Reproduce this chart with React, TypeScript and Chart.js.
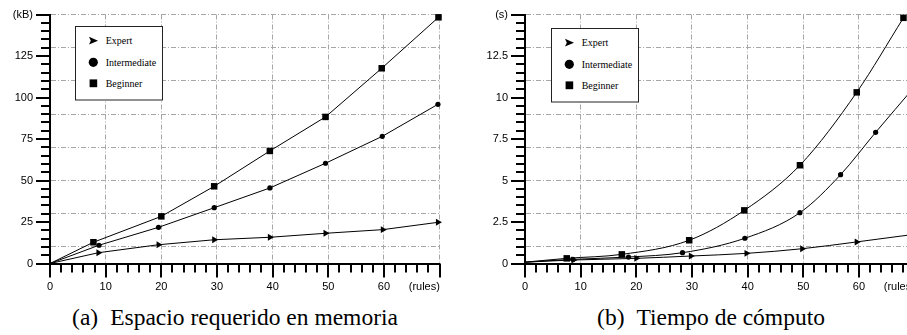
import React, { useEffect, useRef } from "react";
import { Chart, registerables } from "chart.js";
Chart.register(...registerables);

// ---------- data: (a) memory, kB ----------
const memExpertX = [0, 8.7, 19.5, 29.5, 39.5, 49.5, 59.8, 69.7];
const memExpertY = [0, 6.5, 11.3, 14.3, 15.8, 18.2, 20.4, 24.8];
const memInterX = [0, 8.8, 19.5, 29.5, 39.5, 49.5, 59.7, 69.7];
const memInterY = [0, 11, 21.8, 33.6, 45.5, 60.4, 76.6, 95.9];
const memBeginX = [0, 7.8, 20.0, 29.5, 39.5, 49.5, 59.6, 69.8];
const memBeginY = [0, 12.8, 28.4, 46.5, 67.8, 88.3, 117.6, 148.3];

// ---------- data: (b) time, s ----------
const timeExpertX = [0, 8.7, 20.0, 29.8, 39.8, 49.8, 59.6, 70];
const timeExpertY = [0.08, 0.21, 0.31, 0.45, 0.61, 0.89, 1.3, 1.76];
const timeInterX = [0, 8.6, 18.6, 28.3, 39.5, 49.4, 56.7, 63.0, 70];
const timeInterY = [0.08, 0.25, 0.39, 0.65, 1.52, 3.06, 5.35, 7.9, 10.65];
const timeBeginX = [0, 7.5, 17.4, 29.5, 39.4, 49.4, 59.6, 68.0];
const timeBeginY = [0.08, 0.31, 0.55, 1.4, 3.2, 5.92, 10.31, 14.8];

const seriesNames = ["Expert", "Intermediate", "Beginner"];
const xMax = 70;
const xLabelEvery = 10;
const xUnitLabel = "(rules)";
const memYMax = 150;
const memYLabelEvery = 25;
const memYUnit = "(kB)";
const timeYMax = 15;
const timeYLabelEvery = 2.5;
const timeYUnit = "(s)";
const captionA = "Espacio requerido en memoria";
const captionB = "Tiempo de cómputo";

const MAJOR = 14;
const MINOR = 9;
const GRID_COLOR = "#a6a6a6";
const GRID_DASH = [5, 2, 1, 2];
const TICK_FONT = { family: "'Liberation Sans', Arial, sans-serif", size: 11 };
const CANVAS_W = 460;
const CANVAS_H = 300;

const near = (a: number, b: number) => Math.abs(a - b) < 1e-6;
const isMult = (v: number, s: number) => near(v / s, Math.round(v / s));

type ChartCfg = {
  xs: number[][];
  ys: number[][];
  yMax: number;
  yStep: number;
  yLabelEvery: number;
  yGridStart: number;
  yGridStep: number;
  yUnit: string;
  smooth: boolean;
};

function toPts(xs: number[], ys: number[]) {
  return xs.map((x, i) => ({ x, y: ys[i] }));
}

function buildChart(canvas: HTMLCanvasElement, c: ChartCfg) {
  const styles = [
    { pointStyle: "triangle", radius: 4, rotation: 90 },
    { pointStyle: "circle", radius: 2.6, rotation: 0 },
    { pointStyle: "rect", radius: 4.6, rotation: 0 },
  ];
  const datasets = seriesNames.map((name, i) => ({
    label: name,
    data: toPts(c.xs[i], c.ys[i]),
    borderColor: "#000",
    backgroundColor: "#000",
    borderWidth: 1,
    pointStyle: styles[i].pointStyle as any,
    pointRotation: styles[i].rotation,
    pointRadius: (ctx: any) => (ctx.dataIndex === 0 ? 0 : styles[i].radius),
    pointBorderWidth: 0,
    pointBackgroundColor: "#000",
    tension: 0,
    cubicInterpolationMode: c.smooth ? ("monotone" as const) : ("default" as const),
    clip: false as any,
  }));

  const xMajor = (v: number) => isMult(v, xLabelEvery);
  const yMajor = (v: number) => isMult(v, c.yLabelEvery) || near(v, c.yMax);
  const yGrid = (v: number) => v >= c.yGridStart - 1e-6 && isMult(v - c.yGridStart, c.yGridStep);

  const pad = "          ";

  const tickPlugin = {
    id: "axisTickMarks",
    afterDraw(chart: any) {
      const ctx = chart.ctx as CanvasRenderingContext2D;
      const area = chart.chartArea;
      const xs = chart.scales.x;
      const ys = chart.scales.y;
      ctx.save();
      ctx.setLineDash([]);
      ctx.strokeStyle = "#000";
      ctx.lineWidth = 2;
      ctx.lineCap = "butt";
      ctx.beginPath();
      for (const t of xs.ticks) {
        const p = Math.round(xs.getPixelForValue(t.value));
        const len = xMajor(t.value) ? MAJOR : MINOR;
        ctx.moveTo(p, area.bottom);
        ctx.lineTo(p, area.bottom + len);
      }
      for (const t of ys.ticks) {
        const p = Math.round(ys.getPixelForValue(t.value));
        const len = yMajor(t.value) ? MAJOR : MINOR;
        ctx.moveTo(area.left, p);
        ctx.lineTo(area.left - len, p);
      }
      ctx.stroke();
      ctx.restore();
    },
  };

  return new Chart(canvas, {
    type: "line",
    data: { datasets },
    plugins: [tickPlugin],
    options: {
      responsive: false,
      maintainAspectRatio: false,
      animation: false,
      events: [],
      layout: { padding: { top: 14.5, right: CANVAS_W - 50 - 389.6, left: 0, bottom: 0 } },
      plugins: { legend: { display: false }, tooltip: { enabled: false }, title: { display: false } },
      scales: {
        x: {
          type: "linear",
          min: 0,
          max: xMax,
          ticks: {
            stepSize: 2,
            autoSkip: false,
            maxRotation: 0,
            minRotation: 0,
            padding: MAJOR + 3,
            color: "#000",
            font: TICK_FONT,
            callback: (v: any) => {
              const n = Number(v);
              if (near(n, xMax)) return xUnitLabel + pad;
              return xMajor(n) ? String(Math.round(n)) : "";
            },
          },
          grid: {
            color: (ctx: any) =>
              ctx.tick && xMajor(ctx.tick.value) && ctx.tick.value > 0 ? GRID_COLOR : "rgba(0,0,0,0)",
            lineWidth: 1,
            drawTicks: false,
          },
          border: {
            color: "#000",
            width: 2,
            dash: (ctx: any) => (ctx.type === "tick" ? GRID_DASH : []),
          },
          afterFit: (s: any) => {
            s.height = CANVAS_H - 263.5;
            s.paddingLeft = 0;
            s.paddingRight = 0;
          },
        },
        y: {
          type: "linear",
          min: 0,
          max: c.yMax,
          ticks: {
            stepSize: c.yStep,
            autoSkip: false,
            padding: MAJOR + 3,
            color: "#000",
            font: TICK_FONT,
            callback: (v: any) => {
              const n = Number(v);
              if (near(n, c.yMax)) return c.yUnit;
              return isMult(n, c.yLabelEvery) ? String(Math.round(n * 10) / 10) : "";
            },
          },
          grid: {
            color: (ctx: any) => (ctx.tick && yGrid(ctx.tick.value) ? GRID_COLOR : "rgba(0,0,0,0)"),
            lineWidth: 1,
            drawTicks: false,
          },
          border: {
            color: "#000",
            width: 2,
            dash: (ctx: any) => (ctx.type === "tick" ? GRID_DASH : []),
          },
          afterFit: (s: any) => {
            s.width = 50;
            s.paddingTop = 0;
            s.paddingBottom = 0;
          },
        },
      },
    } as any,
  });
}

function Panel({ left, cfg }: { left: number; cfg: ChartCfg }) {
  const ref = useRef<HTMLCanvasElement>(null);
  useEffect(() => {
    if (!ref.current) return;
    const ch = buildChart(ref.current, cfg);
    return () => ch.destroy();
  }, []);
  return (
    <canvas
      ref={ref}
      width={CANVAS_W}
      height={CANVAS_H}
      style={{ position: "absolute", left, top: 0, width: CANVAS_W, height: CANVAS_H }}
    />
  );
}

function Legend({ left, top }: { left: number; top: number }) {
  const tx = 30.7;
  const font = "'Liberation Serif', 'Times New Roman', serif";
  return (
    <svg style={{ position: "absolute", left, top }} width={89} height={76}>
      <rect x={0.5} y={0.5} width={87} height={73.5} fill="#fff" stroke="#222" strokeWidth={1} />
      <polygon points="14,10.8 23,14.7 14,18.6 15.8,14.7" fill="#000" />
      <circle cx={18.3} cy={36.3} r={4.6} fill="#000" />
      <rect x={14.6} y={53.4} width={7.6} height={7.8} fill="#000" />
      <text x={tx} y={14.7} fontFamily={font} fontSize={10} dominantBaseline="central">
        {seriesNames[0]}
      </text>
      <text x={tx} y={36.3} fontFamily={font} fontSize={10} dominantBaseline="central">
        {seriesNames[1]}
      </text>
      <text x={tx} y={57.3} fontFamily={font} fontSize={10} dominantBaseline="central">
        {seriesNames[2]}
      </text>
    </svg>
  );
}

function Caption({ center, tag, text }: { center: number; tag: string; text: string }) {
  return (
    <div
      style={{
        position: "absolute",
        left: center - 220,
        width: 440,
        top: 306,
        textAlign: "center",
        fontFamily: "'Liberation Serif', 'Times New Roman', serif",
        fontSize: 23.5,
        lineHeight: "23.5px",
        whiteSpace: "nowrap",
        color: "#000",
      }}
    >
      <span style={{ marginRight: 12 }}>{tag}</span>
      {text}
    </div>
  );
}

export default function App() {
  const memCfg: ChartCfg = {
    xs: [memExpertX, memInterX, memBeginX],
    ys: [memExpertY, memInterY, memBeginY],
    yMax: memYMax,
    yStep: 5,
    yLabelEvery: memYLabelEvery,
    yGridStart: 10,
    yGridStep: 20,
    yUnit: memYUnit,
    smooth: false,
  };
  const timeCfg: ChartCfg = {
    xs: [timeExpertX, timeInterX, timeBeginX],
    ys: [timeExpertY, timeInterY, timeBeginY],
    yMax: timeYMax,
    yStep: 0.5,
    yLabelEvery: timeYLabelEvery,
    yGridStart: 1,
    yGridStep: 2,
    yUnit: timeYUnit,
    smooth: true,
  };
  return (
    <div
      style={{
        position: "fixed",
        left: 0,
        top: 0,
        width: 907,
        height: 335,
        overflow: "hidden",
        background: "#fff",
      }}
    >
      <Panel left={0} cfg={memCfg} />
      <Panel left={475} cfg={timeCfg} />
      <Legend left={75} top={26} />
      <Legend left={551} top={27.5} />
      <Caption center={235} tag="(a)" text={captionA} />
      <Caption center={711} tag="(b)" text={captionB} />
    </div>
  );
}
